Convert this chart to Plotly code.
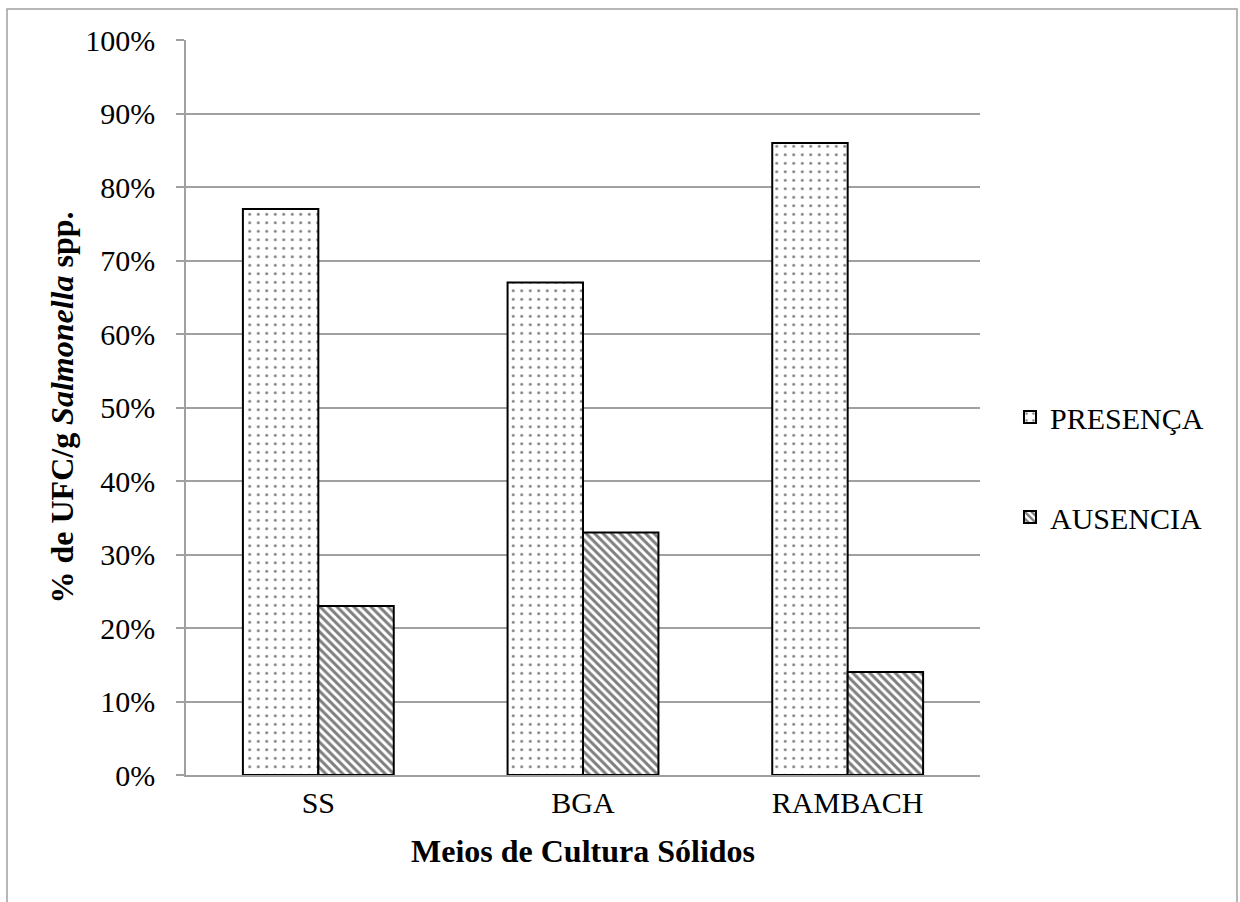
import plotly.graph_objects as go

categories = ["SS", "BGA", "RAMBACH"]
presenca = [77, 67, 86]
ausencia = [23, 33, 14]
series_names = ["PRESENÇA", "AUSENCIA"]
y_ticks = [0, 10, 20, 30, 40, 50, 60, 70, 80, 90, 100]
y_tick_labels = [f"{v}%" for v in y_ticks]

FONT = "Liberation Serif, Times New Roman, serif"
FS = 30
FT = 32

fig = go.Figure()
fig.add_trace(go.Bar(
    x=categories, y=presenca, name=series_names[0], legendgroup="a",
    marker=dict(color="white", line=dict(color="black", width=2),
                pattern=dict(shape=".", fgcolor="black", bgcolor="white", size=8.5, solidity=0.1)),
))
fig.add_trace(go.Bar(
    x=categories, y=ausencia, name=series_names[1], legendgroup="b",
    marker=dict(color="white", line=dict(color="black", width=2),
                pattern=dict(shape="\\", fgcolor="black", bgcolor="white", size=6, solidity=0.5)),
))

L, R, T, B = 186, 980, 40, 775
W, H = 1240, 902
pw, ph = R - L, B - T

def px(x):
    return (x - L) / pw

def py(y):
    return (B - y) / ph

fig.add_shape(type="rect", xref="paper", yref="paper",
              x0=px(7), x1=px(1237), y0=py(9), y1=py(910),
              line=dict(color="#a0a0a0", width=1.5), fillcolor="rgba(0,0,0,0)", layer="below")

fig.update_layout(
    width=W, height=H,
    margin=dict(l=L, r=W - R, t=T, b=H - B, autoexpand=False),
    paper_bgcolor="white", plot_bgcolor="white",
    barmode="group", bargap=0.43, bargroupgap=0,
    font=dict(family=FONT, size=FS, color="black"),
    legend=dict(x=px(1010), y=py(467), yanchor="middle", xanchor="left",
                font=dict(family=FONT, size=FS), tracegroupgap=58,
                itemwidth=30, traceorder="grouped"),
    xaxis=dict(showline=True, linecolor="#a0a0a0", linewidth=1.5, ticks="",
               title=dict(text="<b>Meios de Cultura Sólidos</b>", standoff=22,
                          font=dict(family=FONT, size=FT)),
               tickfont=dict(family=FONT, size=FS)),
    yaxis=dict(range=[0, 100], tickvals=y_ticks, ticktext=y_tick_labels,
               showline=True, linecolor="#a0a0a0", linewidth=1.5,
               ticks="outside", ticklen=8, tickcolor="#a0a0a0", tickwidth=1.5,
               ticklabelstandoff=15,
               showgrid=True, gridcolor="#a0a0a0", gridwidth=1.5, zeroline=False,
               tickfont=dict(family=FONT, size=FS),
               title=dict(text="<b>% de UFC/g <i>Salmonella</i> spp.</b>", standoff=2,
                          font=dict(family=FONT, size=FT))),
)

fig.write_html("out.html", config={"displayModeBar": False},
               post_script="document.body.style.margin='0';document.body.style.overflow='hidden';")
